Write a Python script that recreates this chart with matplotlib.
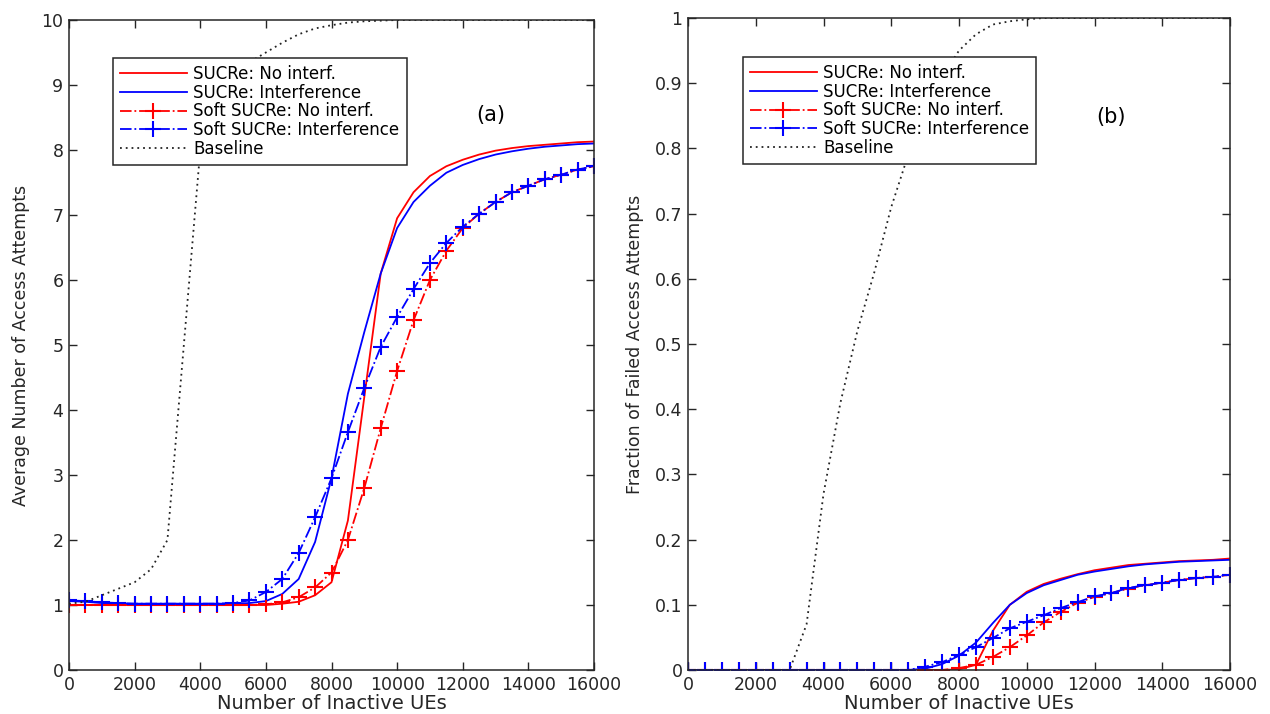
import matplotlib
matplotlib.use("Agg")
import matplotlib.pyplot as plt

# ---------------- data ----------------
x = [0, 500, 1000, 1500, 2000, 2500, 3000, 3500, 4000, 4500, 5000, 5500, 6000,
     6500, 7000, 7500, 8000, 8500, 9000, 9500, 10000, 10500, 11000, 11500,
     12000, 12500, 13000, 13500, 14000, 14500, 15000, 15500, 16000]

# (a) Average number of access attempts
a_sucre_noint = [1.0, 1.0, 1.0, 1.0, 1.0, 1.0, 1.0, 1.0, 1.0, 1.0, 1.0, 1.0, 1.0,
                 1.02, 1.05, 1.15, 1.35, 2.3, 4.2, 6.1, 6.95, 7.35, 7.6, 7.75,
                 7.85, 7.93, 7.99, 8.03, 8.06, 8.08, 8.1, 8.12, 8.13]
a_sucre_int = [1.06, 1.05, 1.03, 1.02, 1.02, 1.02, 1.02, 1.02, 1.02, 1.02, 1.02, 1.03, 1.06,
               1.17, 1.4, 1.97, 2.95, 4.25, 5.2, 6.1, 6.8, 7.2, 7.45, 7.65,
               7.77, 7.86, 7.93, 7.98, 8.02, 8.05, 8.07, 8.09, 8.1]
a_soft_noint = [1.0, 1.0, 1.0, 1.0, 1.0, 1.0, 1.0, 1.0, 1.0, 1.0, 1.0, 1.0, 1.01,
                1.04, 1.12, 1.27, 1.5, 2.0, 2.8, 3.72, 4.6, 5.38, 6.0, 6.45,
                6.8, 7.02, 7.2, 7.35, 7.45, 7.55, 7.62, 7.7, 7.75]
a_soft_int = [1.07, 1.06, 1.04, 1.03, 1.02, 1.02, 1.02, 1.02, 1.02, 1.02, 1.03, 1.07, 1.2,
              1.4, 1.8, 2.35, 2.95, 3.66, 4.34, 4.97, 5.43, 5.86, 6.26, 6.57,
              6.82, 7.02, 7.2, 7.35, 7.45, 7.55, 7.62, 7.7, 7.75]
a_baseline = [1.02, 1.05, 1.15, 1.25, 1.35, 1.55, 2.0, 5.0, 8.0, 8.7, 9.1, 9.35, 9.5,
              9.65, 9.78, 9.87, 9.92, 9.96, 9.98, 9.99, 10.0, 10.0, 10.0, 10.0,
              10.0, 10.0, 10.0, 10.0, 10.0, 10.0, 10.0, 10.0, 10.0]

# (b) Fraction of failed access attempts
b_sucre_noint = [0, 0, 0, 0, 0, 0, 0, 0, 0, 0, 0, 0, 0,
                 0, 0, 0, 0.001, 0.008, 0.06, 0.1, 0.12, 0.132, 0.14, 0.147,
                 0.153, 0.157, 0.161, 0.163, 0.165, 0.167, 0.168, 0.169, 0.171]
b_sucre_int = [0, 0, 0, 0, 0, 0, 0, 0, 0, 0, 0, 0, 0,
               0, 0.002, 0.009, 0.022, 0.042, 0.072, 0.1, 0.118, 0.13, 0.138, 0.146,
               0.151, 0.155, 0.159, 0.162, 0.164, 0.166, 0.167, 0.168, 0.169]
b_soft_noint = [0, 0, 0, 0, 0, 0, 0, 0, 0, 0, 0, 0, 0,
                0, 0, 0, 0.003, 0.008, 0.02, 0.035, 0.053, 0.073, 0.089, 0.103,
                0.112, 0.118, 0.125, 0.13, 0.134, 0.138, 0.141, 0.143, 0.146]
b_soft_int = [0, 0, 0, 0, 0, 0, 0, 0, 0, 0, 0, 0, 0,
              0, 0.005, 0.012, 0.023, 0.035, 0.049, 0.064, 0.074, 0.084, 0.095, 0.104,
              0.113, 0.118, 0.126, 0.13, 0.134, 0.138, 0.141, 0.143, 0.146]
b_baseline = [0, 0, 0, 0, 0, 0, 0, 0.07, 0.27, 0.41, 0.52, 0.61, 0.71,
              0.79, 0.86, 0.91, 0.95, 0.975, 0.99, 0.995, 0.998, 1.0, 1.0, 1.0,
              1.0, 1.0, 1.0, 1.0, 1.0, 1.0, 1.0, 1.0, 1.0]

labels = ["SUCRe: No interf.", "SUCRe: Interference",
          "Soft SUCRe: No interf.", "Soft SUCRe: Interference", "Baseline"]

xticks = [0, 2000, 4000, 6000, 8000, 10000, 12000, 14000, 16000]
a_yticks = [0, 1, 2, 3, 4, 5, 6, 7, 8, 9, 10]
b_yticks = [0, 0.1, 0.2, 0.3, 0.4, 0.5, 0.6, 0.7, 0.8, 0.9, 1]
b_yticklabels = ["0", "0.1", "0.2", "0.3", "0.4", "0.5", "0.6", "0.7", "0.8", "0.9", "1"]

# ---------------- plotting ----------------
plt.rcParams['font.family'] = ['DejaVu Sans']
fig = plt.figure(figsize=(12.7, 7.14), dpi=100)
axA = fig.add_axes([69/1270, 44/714, 525/1270, 650/714])
axB = fig.add_axes([688/1270, 44/714, 542/1270, 652/714])

dark = '#262626'
RED = '#ff0000'
BLUE = '#0000ff'


def draw(ax, s_noint, s_int, soft_noint, soft_int, base):
    ax.plot(x, s_noint, color=RED, lw=1.3, label=labels[0])
    ax.plot(x, s_int, color=BLUE, lw=1.3, label=labels[1])
    ax.plot(x, soft_noint, color=RED, lw=1.3, ls='-.', marker='+', ms=12, mew=1.5,
            label=labels[2])
    ax.plot(x, soft_int, color=BLUE, lw=1.3, ls='-.', marker='+', ms=12, mew=1.5,
            label=labels[3])
    ax.plot(x, base, color='#222222', lw=1.3, ls=(0, (1, 2.2)), label=labels[4])
    ax.set_xlim(0, 16000)
    ax.set_xticks(xticks)
    ax.set_xticklabels([str(t) for t in xticks])
    ax.tick_params(direction='in', top=True, right=True, length=6, width=1,
                   colors=dark, labelsize=12.5, pad=4)
    for sp in ax.spines.values():
        sp.set_color(dark)
        sp.set_linewidth(1.1)
    ax.set_xlabel("Number of Inactive UEs", fontsize=14, color=dark, labelpad=0)


def legend(ax, anchor):
    leg = ax.legend(loc='upper left', bbox_to_anchor=anchor, fontsize=12,
                    handlelength=4.0, handletextpad=0.4, labelspacing=0.04,
                    borderpad=0.42, borderaxespad=0, fancybox=False, framealpha=1)
    leg.get_frame().set_edgecolor(dark)
    leg.get_frame().set_linewidth(1.1)
    return leg


draw(axA, a_sucre_noint, a_sucre_int, a_soft_noint, a_soft_int, a_baseline)
axA.set_ylim(0, 10)
axA.set_yticks(a_yticks)
axA.set_yticklabels([str(t) for t in a_yticks])
axA.set_ylabel("Average Number of Access Attempts", fontsize=12.5, color=dark, labelpad=8)
axA.text(12850, 8.54, "(a)", fontsize=15, color='black', ha='center', va='center')
legend(axA, (0.084, 0.9415))

draw(axB, b_sucre_noint, b_sucre_int, b_soft_noint, b_soft_int, b_baseline)
axB.set_ylim(0, 1)
axB.set_yticks(b_yticks)
axB.set_yticklabels(b_yticklabels)
axB.set_ylabel("Fraction of Failed Access Attempts", fontsize=12.5, color=dark, labelpad=8)
axB.text(12500, 0.848, "(b)", fontsize=15, color='black', ha='center', va='center')
legend(axB, (0.1015, 0.940))

fig.savefig("out.png", dpi=100)
